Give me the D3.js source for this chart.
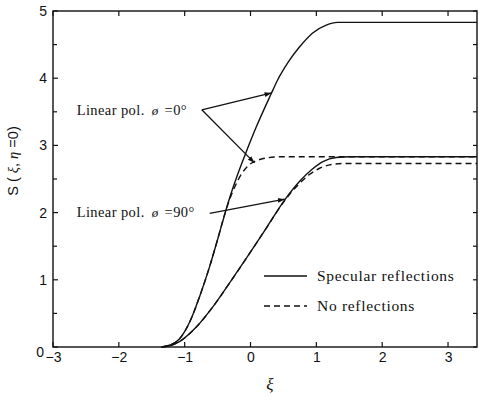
<!DOCTYPE html>
<html>
<head>
<meta charset="utf-8">
<script src="https://cdn.jsdelivr.net/npm/d3@7"></script>
<style>
  body { margin: 0; background: #fff; }
  svg { display: block; }
</style>
</head>
<body>
<script>
// Data (xi, S)
const specPol0 = [[-1.35,0],[-1.22,0.03],[-1.08,0.12],[-0.92,0.38],[-0.77,0.76],[-0.62,1.2],[-0.5,1.6],[-0.39,1.98],[-0.32,2.21],[-0.22,2.5],[-0.09,2.84],[0.09,3.28],[0.31,3.76],[0.41,3.97],[0.58,4.25],[0.74,4.46],[0.94,4.67],[1.15,4.79],[1.32,4.83],[3.44,4.83]];
const specPol90 = [[-1.35,0],[-1.22,0.02],[-1.08,0.08],[-0.82,0.3],[-0.57,0.6],[-0.32,0.95],[-0.07,1.31],[0.24,1.77],[0.52,2.19],[0.75,2.47],[0.94,2.65],[1.1,2.76],[1.3,2.82],[1.5,2.83],[3.44,2.83]];
const noRefPol0 = [[-1.35,0],[-1.22,0.03],[-1.08,0.12],[-0.92,0.38],[-0.77,0.76],[-0.62,1.2],[-0.5,1.6],[-0.39,1.98],[-0.32,2.19],[-0.24,2.38],[-0.14,2.57],[-0.02,2.71],[0.14,2.79],[0.44,2.83],[3.44,2.83]];
const noRefPol90 = [[-1.35,0],[-1.22,0.02],[-1.08,0.08],[-0.82,0.3],[-0.57,0.6],[-0.32,0.95],[-0.07,1.31],[0.24,1.77],[0.52,2.18],[0.75,2.44],[0.9,2.57],[1.05,2.66],[1.2,2.71],[1.4,2.73],[3.44,2.73]];

const xTicks = [-3, -2, -1, 0, 1, 2, 3];
const yTicks = [0, 1, 2, 3, 4, 5];

// annotations: label position, arrow start, arrow tips (data units)
const notes = [
  { text: "=0°", at: [-2.64, 3.53], from: [-0.74, 3.53], tips: [[0.32, 3.78], [0.06, 2.74]] },
  { text: "=90°", at: [-2.64, 2.01], from: [-0.62, 1.99], tips: [[0.52, 2.2]] }
];
const legendItems = [
  { label: "Specular reflections", dash: null },
  { label: "No reflections", dash: "6,4" }
];

const W = 479, H = 401;
const m = { left: 53, right: 477, top: 11, bottom: 347 };

const svg = d3.select("body").append("svg")
  .attr("width", W).attr("height", H);

const x = d3.scaleLinear().domain([-3, 3.44]).range([m.left, m.right]);
const y = d3.scaleLinear().domain([0, 5]).range([m.bottom, m.top]);

const tickFont = "'Liberation Sans', Arial, sans-serif";
const serif = "'Liberation Serif', 'Times New Roman', serif";

// frame
svg.append("rect")
  .attr("x", m.left).attr("y", m.top)
  .attr("width", m.right - m.left).attr("height", m.bottom - m.top)
  .attr("fill", "none").attr("stroke", "#111").attr("stroke-width", 1.4);

// axes
const halfTicks = d3.range(0, 5.01, 0.5);
const gL = svg.append("g").attr("transform", `translate(${m.left},0)`)
  .call(d3.axisLeft(y).tickValues(yTicks).tickSize(0).tickPadding(6).tickFormat(d3.format("d")));
const gB = svg.append("g").attr("transform", `translate(0,${m.bottom})`)
  .call(d3.axisBottom(x).tickValues(xTicks).tickSize(0).tickPadding(5).tickFormat(d3.format("d")));
[gL, gB].forEach(g => {
  g.select(".domain").remove();
  g.selectAll("text").attr("font-family", tickFont).attr("font-size", 14).attr("fill", "#111");
});
// the "0" on the y axis sits a little low in the original
gL.selectAll(".tick").filter(d => d === 0).select("text").attr("dy", "0.7em").attr("x", -9);

// inward ticks
const tk = svg.append("g").attr("stroke", "#111").attr("stroke-width", 1.2);
halfTicks.forEach(v => {
  const len = Number.isInteger(v) ? 5 : 4;
  tk.append("line").attr("x1", m.left).attr("x2", m.left + len).attr("y1", y(v)).attr("y2", y(v));
  tk.append("line").attr("x1", m.right).attr("x2", m.right - 4).attr("y1", y(v)).attr("y2", y(v));
});
xTicks.forEach(v => {
  tk.append("line").attr("x1", x(v)).attr("x2", x(v)).attr("y1", m.bottom).attr("y2", m.bottom - 5);
  tk.append("line").attr("x1", x(v)).attr("x2", x(v)).attr("y1", m.top).attr("y2", m.top + 5);
});

// curves
const line = d3.line().x(d => x(d[0])).y(d => y(d[1])).curve(d3.curveMonotoneX);
[[specPol0, null], [specPol90, null], [noRefPol0, "6,4"], [noRefPol90, "6,4"]].forEach(([data, dash]) => {
  svg.append("path").datum(data)
    .attr("fill", "none").attr("stroke", "#111").attr("stroke-width", 1.4)
    .attr("stroke-dasharray", dash)
    .attr("d", line);
});

// annotations
svg.append("defs").append("marker")
  .attr("id", "ah").attr("viewBox", "0 0 10 10").attr("refX", 10).attr("refY", 5)
  .attr("markerWidth", 7).attr("markerHeight", 7).attr("orient", "auto")
  .attr("markerUnits", "userSpaceOnUse")
  .append("path").attr("d", "M0,1.5 L10,5 L0,8.5 Z").attr("fill", "#111");

notes.forEach(n => {
  const t = svg.append("text")
    .attr("x", x(n.at[0])).attr("y", y(n.at[1]))
    .attr("dy", "0.35em")
    .attr("font-family", serif).attr("font-size", 14.5).attr("letter-spacing", 0.4).attr("fill", "#111");
  t.append("tspan").text("Linear pol.");
  t.append("tspan").attr("dx", 7).attr("font-style", "italic").attr("font-size", 13).text("ø");
  t.append("tspan").attr("dx", 6).text(n.text);
  n.tips.forEach(tip => {
    svg.append("line")
      .attr("x1", x(n.from[0])).attr("y1", y(n.from[1]))
      .attr("x2", x(tip[0])).attr("y2", y(tip[1]))
      .attr("stroke", "#111").attr("stroke-width", 1.3)
      .attr("marker-end", "url(#ah)");
  });
});

// legend
const lg = svg.append("g").attr("transform", "translate(264,276)");
legendItems.forEach((d, i) => {
  const row = lg.append("g").attr("transform", `translate(0,${i * 30})`);
  row.append("line").attr("x1", 0).attr("x2", 43).attr("y1", 0).attr("y2", 0)
    .attr("stroke", "#111").attr("stroke-width", 1.4).attr("stroke-dasharray", d.dash);
  row.append("text").attr("x", 53).attr("y", 0).attr("dy", "0.35em")
    .attr("font-family", serif).attr("font-size", 15.5).attr("letter-spacing", 0.7).attr("fill", "#111")
    .text(d.label);
});

// axis titles
svg.append("text")
  .attr("x", (m.left + m.right) / 2 + 5).attr("y", 390)
  .attr("text-anchor", "middle")
  .attr("font-family", serif).attr("font-style", "italic").attr("font-size", 17).attr("fill", "#111")
  .text("ξ");

const yt = svg.append("text")
  .attr("transform", "translate(18,161) rotate(-90)")
  .attr("text-anchor", "middle")
  .attr("font-family", tickFont).attr("font-size", 14.5).attr("fill", "#111");
yt.append("tspan").text("S ( ");
yt.append("tspan").attr("font-family", serif).attr("font-style", "italic").text("ξ");
yt.append("tspan").text(", ");
yt.append("tspan").attr("font-family", serif).attr("font-style", "italic").text("η");
yt.append("tspan").text(" =0)");
</script>
</body>
</html>
